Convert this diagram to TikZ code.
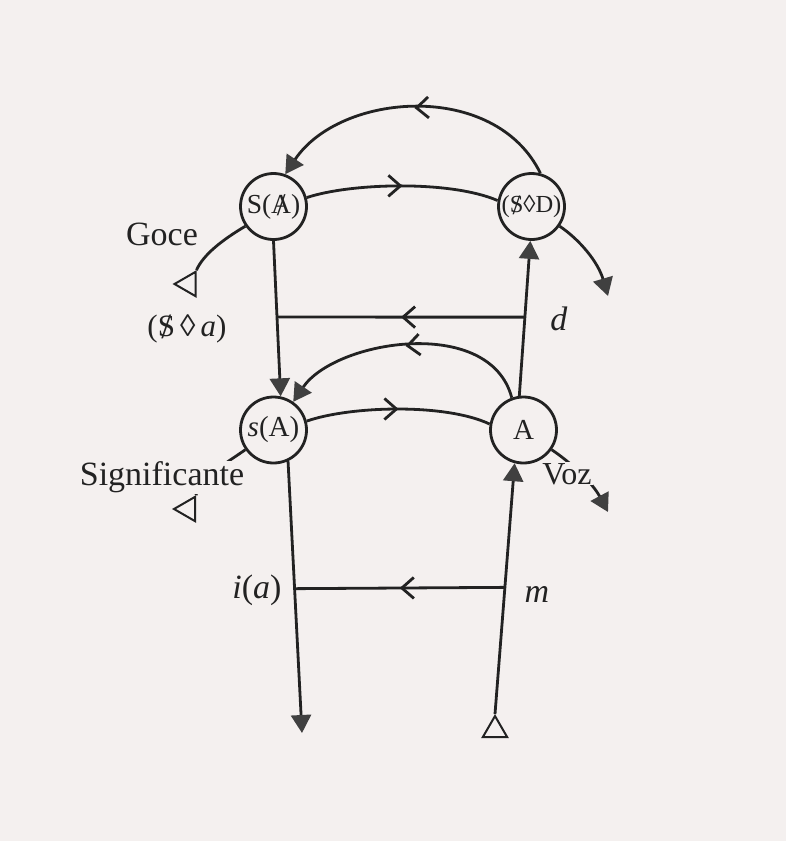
\documentclass[tikz,border=0pt]{standalone}
\usepackage{fontspec}
\setmainfont{Liberation Serif}
\usetikzlibrary{arrows.meta,decorations.markings,shapes.geometric,calc}
\definecolor{bg}{HTML}{F4F0EF}
\definecolor{ink}{HTML}{222222}
\definecolor{tipc}{HTML}{404040}
\newcommand{\barred}[1]{{\ooalign{#1\cr\hidewidth\raisebox{-0.08em}{\scalebox{1.15}{/}}\hidewidth\cr}}}
\begin{document}
\begin{tikzpicture}[x=1pt,y=-1pt,
  ln/.style={draw=ink, line width=2.8pt},
  nd/.style={circle, draw=ink, line width=2.8pt, minimum size=66pt, inner sep=0pt, fill=bg, text=ink, font=\fontsize{29}{31}\selectfont},
  tip/.style={-{Triangle[length=18pt,width=20pt,fill=tipc,color=tipc]}},
  midarrow/.style={postaction={decorate}, decoration={markings, mark=at position #1 with {\arrow{Straight Barb[length=12pt,width=21pt]}}}},
  tri/.style={regular polygon, regular polygon sides=3, draw=ink, line width=2pt, minimum size=28pt, inner sep=0pt},
  lab/.style={text=ink, fill=bg, inner sep=1pt, anchor=base, font=\fontsize{34}{36}\selectfont},
]
\useasboundingbox (0,0) rectangle (786,841);
\fill[bg] (0,0) rectangle (786,841);

% circles
\node[nd] (SA) at (273.5,206.5) {\makebox[0pt]{\fontsize{27.5}{29}\selectfont S(\barred{A})}};
\node[nd] (SD) at (531.5,206.5) {\makebox[0pt]{\fontsize{24.5}{26}\selectfont(\barred{S}◊D)}};
\node[nd] (sA) at (273.5,430) {\makebox[0pt]{\textit{s}(A)}};
\node[nd] (A) at (523.5,430) {\makebox[0pt]{A}};

% open start triangles
\node[tri, rotate=90] (tG) at (188.5,284) {};
\node[tri, rotate=90] (tS) at (188,509) {};
\node[tri] (tB) at (495,730) {};

% free ends
\coordinate (sdE) at (608,296);
\coordinate (vzE) at (608,512);
\coordinate (botL) at (302,733);

% verticals
\draw[ln,tip] (SA.south) -- (sA.78);
\draw[ln,tip] (A.97) -- (SD.268);
\draw[ln,tip] (sA.295) -- (botL);
\draw[ln,tip] (tB.corner 1) -- (A.255);

% horizontals
\coordinate (dR) at ($(A.97)!0.508!(SD.268)$);
\coordinate (dL) at ($(SA.south)!0.49!(sA.78)$);
\draw[ln,midarrow=0.5] (dR) -- (dL);
\coordinate (iaL) at ($(sA.295)!0.469!(botL)$);
\coordinate (mR) at ($(tB.corner 1)!0.505!(A.255)$);
\draw[ln,midarrow=0.5] (mR) -- (iaL);

% arcs
\draw[ln,tip,midarrow=0.5] (SD.75) .. controls (495,80) and (340,92) .. (SA.70);
\draw[ln,midarrow=0.5] (SA.15) .. controls (350,183) and (450,180) .. (SD.170);
\draw[ln,midarrow=0.5] (sA.15) .. controls (350,406) and (445,403) .. (A.170);
\draw[ln,tip,midarrow=0.5] (A.110) .. controls (490,315) and (335,340) .. (sA.55);

% side vectors
\draw[ln] (SA.215) .. controls (222,240) and (203,255) .. (tG.corner 3);
\draw[ln] (sA.215) .. controls (222,466) and (200,478) .. (tS.corner 3);
\draw[ln,tip] (SD.325) .. controls (580,240) and (598,262) .. (sdE);
\draw[ln,tip] (A.325) .. controls (570,462) and (592,482) .. (vzE);

% labels
\node[lab] (goce) at (162,245) {Goce};
\node[lab, font=\fontsize{31}{33}\selectfont] (sda) at (187,336.5) {(\barred{S}\,◊\,\textit{a})};
\node[lab] (sig) at (162,485.5) {Significante};
\node[lab, font=\fontsize{32}{34}\selectfont] (voz) at (567,484) {Voz};
\node[lab] (dlab) at (559,330) {\textit{d}};
\node[lab] (ia) at (257,598) {\textit{i}(\textit{a})};
\node[lab] (mlab) at (537,602.5) {\textit{m}};
\end{tikzpicture}
\end{document}
